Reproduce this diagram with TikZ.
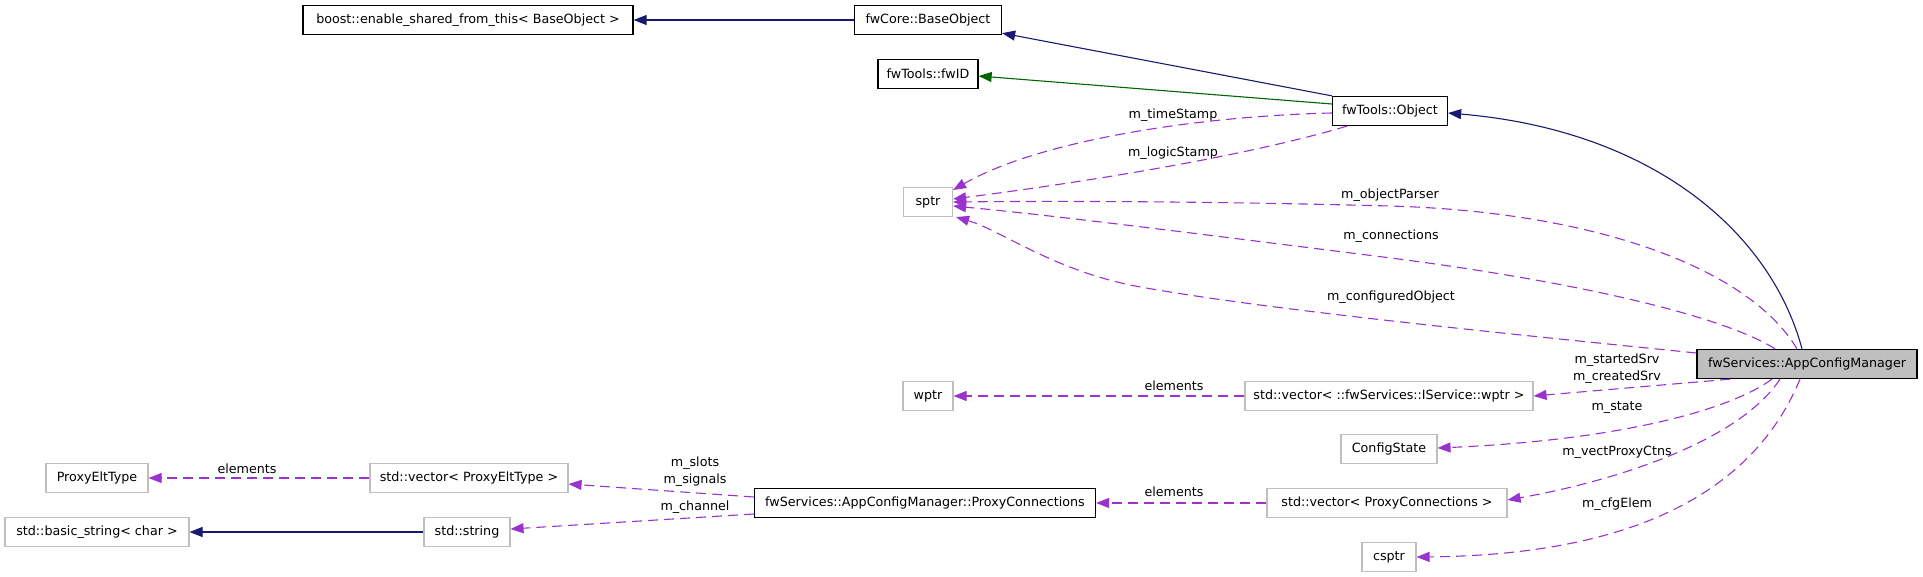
\documentclass[tikz,border=0pt]{standalone}
\usepackage{fontspec}
\setmainfont{DejaVu Sans}
\usetikzlibrary{arrows.meta}
\definecolor{inhcol}{HTML}{191970}
\definecolor{grncol}{HTML}{006400}
\definecolor{usecol}{HTML}{9A32CD}
\definecolor{graybox}{HTML}{BFBFBF}
\tikzset{
  box/.style={draw=black, line width=1.3pt, minimum height=29pt, inner sep=0pt, font=\fontsize{12.7}{15}\selectfont, anchor=center},
  lightbox/.style={box, draw=graybox, line width=1.1pt},
  lbl/.style={font=\fontsize{12.7}{15}\selectfont, inner sep=0pt, anchor=center},
  inhedge/.style={draw=inhcol, line width=1.1pt, -{Triangle[length=13pt,width=10pt]}},
  grnedge/.style={draw=grncol, line width=1.1pt, -{Triangle[length=13pt,width=10pt]}},
  useedge/.style={draw=usecol, line width=1.1pt, dash pattern=on 10pt off 6pt, -{Triangle[length=13pt,width=10pt]}}
}
\begin{document}
\begin{tikzpicture}[x=1pt,y=-1pt]
\useasboundingbox (0,0) rectangle (1923,576);
% nodes
\node[box, minimum width=330pt] (boost) at (468,20) {boost::enable\_shared\_from\_this< BaseObject >};
\node[box, minimum width=147pt] (base) at (928,20) {fwCore::BaseObject};
\node[box, minimum width=100pt] (fwid) at (928,74) {fwTools::fwID};
\node[box, minimum width=115pt] (obj) at (1390,111) {fwTools::Object};
\node[lightbox, minimum width=49pt] (sptr) at (928,202) {sptr};
\node[box, fill=graybox, minimum width=220pt] (app) at (1807,364) {fwServices::AppConfigManager};
\node[lightbox, minimum width=50pt] (wptr) at (928,396) {wptr};
\node[lightbox, minimum width=288pt] (vecsrv) at (1389,396) {std::vector< ::fwServices::IService::wptr >};
\node[lightbox, minimum width=96pt] (cfgstate) at (1389,449) {ConfigState};
\node[lightbox, minimum width=102pt] (pet) at (97,478) {ProxyEltType};
\node[lightbox, minimum width=198pt] (vecpet) at (469,478) {std::vector< ProxyEltType >};
\node[box, minimum width=341pt] (proxy) at (925,503) {fwServices::AppConfigManager::ProxyConnections};
\node[lightbox, minimum width=240pt] (vecproxy) at (1387,503) {std::vector< ProxyConnections >};
\node[lightbox, minimum width=184pt] (bstr) at (97,532) {std::basic\_string< char >};
\node[lightbox, minimum width=86pt] (str) at (467,532) {std::string};
\node[lightbox, minimum width=54pt] (csptr) at (1389,557) {csptr};
% inheritance edges
\draw[inhedge] (base.west) -- (boost.east);
\draw[inhedge] (obj.north west) -- ([yshift=2pt]base.south east);
\draw[grnedge] ([yshift=7pt]obj.west) -- ([yshift=-2pt]fwid.east);
\draw[inhedge] ([xshift=-5pt]app.north) .. controls (1770,230) and (1650,130) .. ([yshift=-2pt]obj.east);
\draw[inhedge] (str.west) -- (bstr.east);
% usage edges
\draw[useedge] ([yshift=-2pt]obj.west) .. controls (1200,116) and (1040,140) .. ([yshift=12pt]sptr.east);
\draw[useedge] ([xshift=15pt]obj.south west) .. controls (1250,155) and (1100,180) .. ([yshift=3pt]sptr.east);
\draw[useedge] ([xshift=-10pt]app.north) .. controls (1750,270) and (1600,212) .. (1390,206) .. controls (1200,201) and (1050,201) .. (sptr.east);
\draw[useedge] ([xshift=-32pt]app.north) .. controls (1730,320) and (1600,285) .. (1391,258) .. controls (1200,234) and (1050,215) .. ([yshift=-4pt]sptr.east);
\draw[useedge] ([yshift=11pt]app.west) .. controls (1500,333) and (1250,308) .. (1130,285) .. controls (1050,268) and (1000,230) .. ([xshift=3pt]sptr.south east);
\draw[useedge] ([xshift=-77pt]app.south) -- (vecsrv.east);
\draw[useedge] ([xshift=-35pt]app.south) .. controls (1730,410) and (1620,440) .. ([yshift=1pt]cfgstate.east);
\draw[useedge] ([xshift=-27pt]app.south) .. controls (1740,440) and (1620,480) .. ([yshift=3pt]vecproxy.east);
\draw[useedge] ([xshift=-7pt]app.south) .. controls (1750,500) and (1620,555) .. (csptr.east);
\draw[useedge] (vecsrv.west) -- (wptr.east);
\draw[useedge] (vecproxy.west) -- (proxy.east);
\draw[useedge] ([yshift=6pt]proxy.west) -- ([yshift=-6pt]vecpet.east);
\draw[useedge] ([yshift=-11pt]proxy.west) -- ([yshift=3pt]str.east);
\draw[useedge] (vecpet.west) -- (pet.east);
% labels
\node[lbl] (l1) at (1173,115) {m\_timeStamp};
\node[lbl] (l2) at (1173,153) {m\_logicStamp};
\node[lbl] (l3) at (1390,195) {m\_objectParser};
\node[lbl] (l4) at (1391,236) {m\_connections};
\node[lbl] (l5) at (1391,297) {m\_configuredObject};
\node[lbl] (l6) at (1617,360) {m\_startedSrv};
\node[lbl] (l7) at (1617,377) {m\_createdSrv};
\node[lbl] (l8) at (1617,408) {m\_state};
\node[lbl] (l9) at (1617,452) {m\_vectProxyCtns};
\node[lbl] (l10) at (1617,504) {m\_cfgElem};
\node[lbl] (l11) at (1174,386) {elements};
\node[lbl] (l12) at (1174,492) {elements};
\node[lbl] (l13) at (695,463) {m\_slots};
\node[lbl] (l14) at (695,480) {m\_signals};
\node[lbl] (l15) at (695,507) {m\_channel};
\node[lbl] (l16) at (247,469) {elements};
\end{tikzpicture}
\end{document}
